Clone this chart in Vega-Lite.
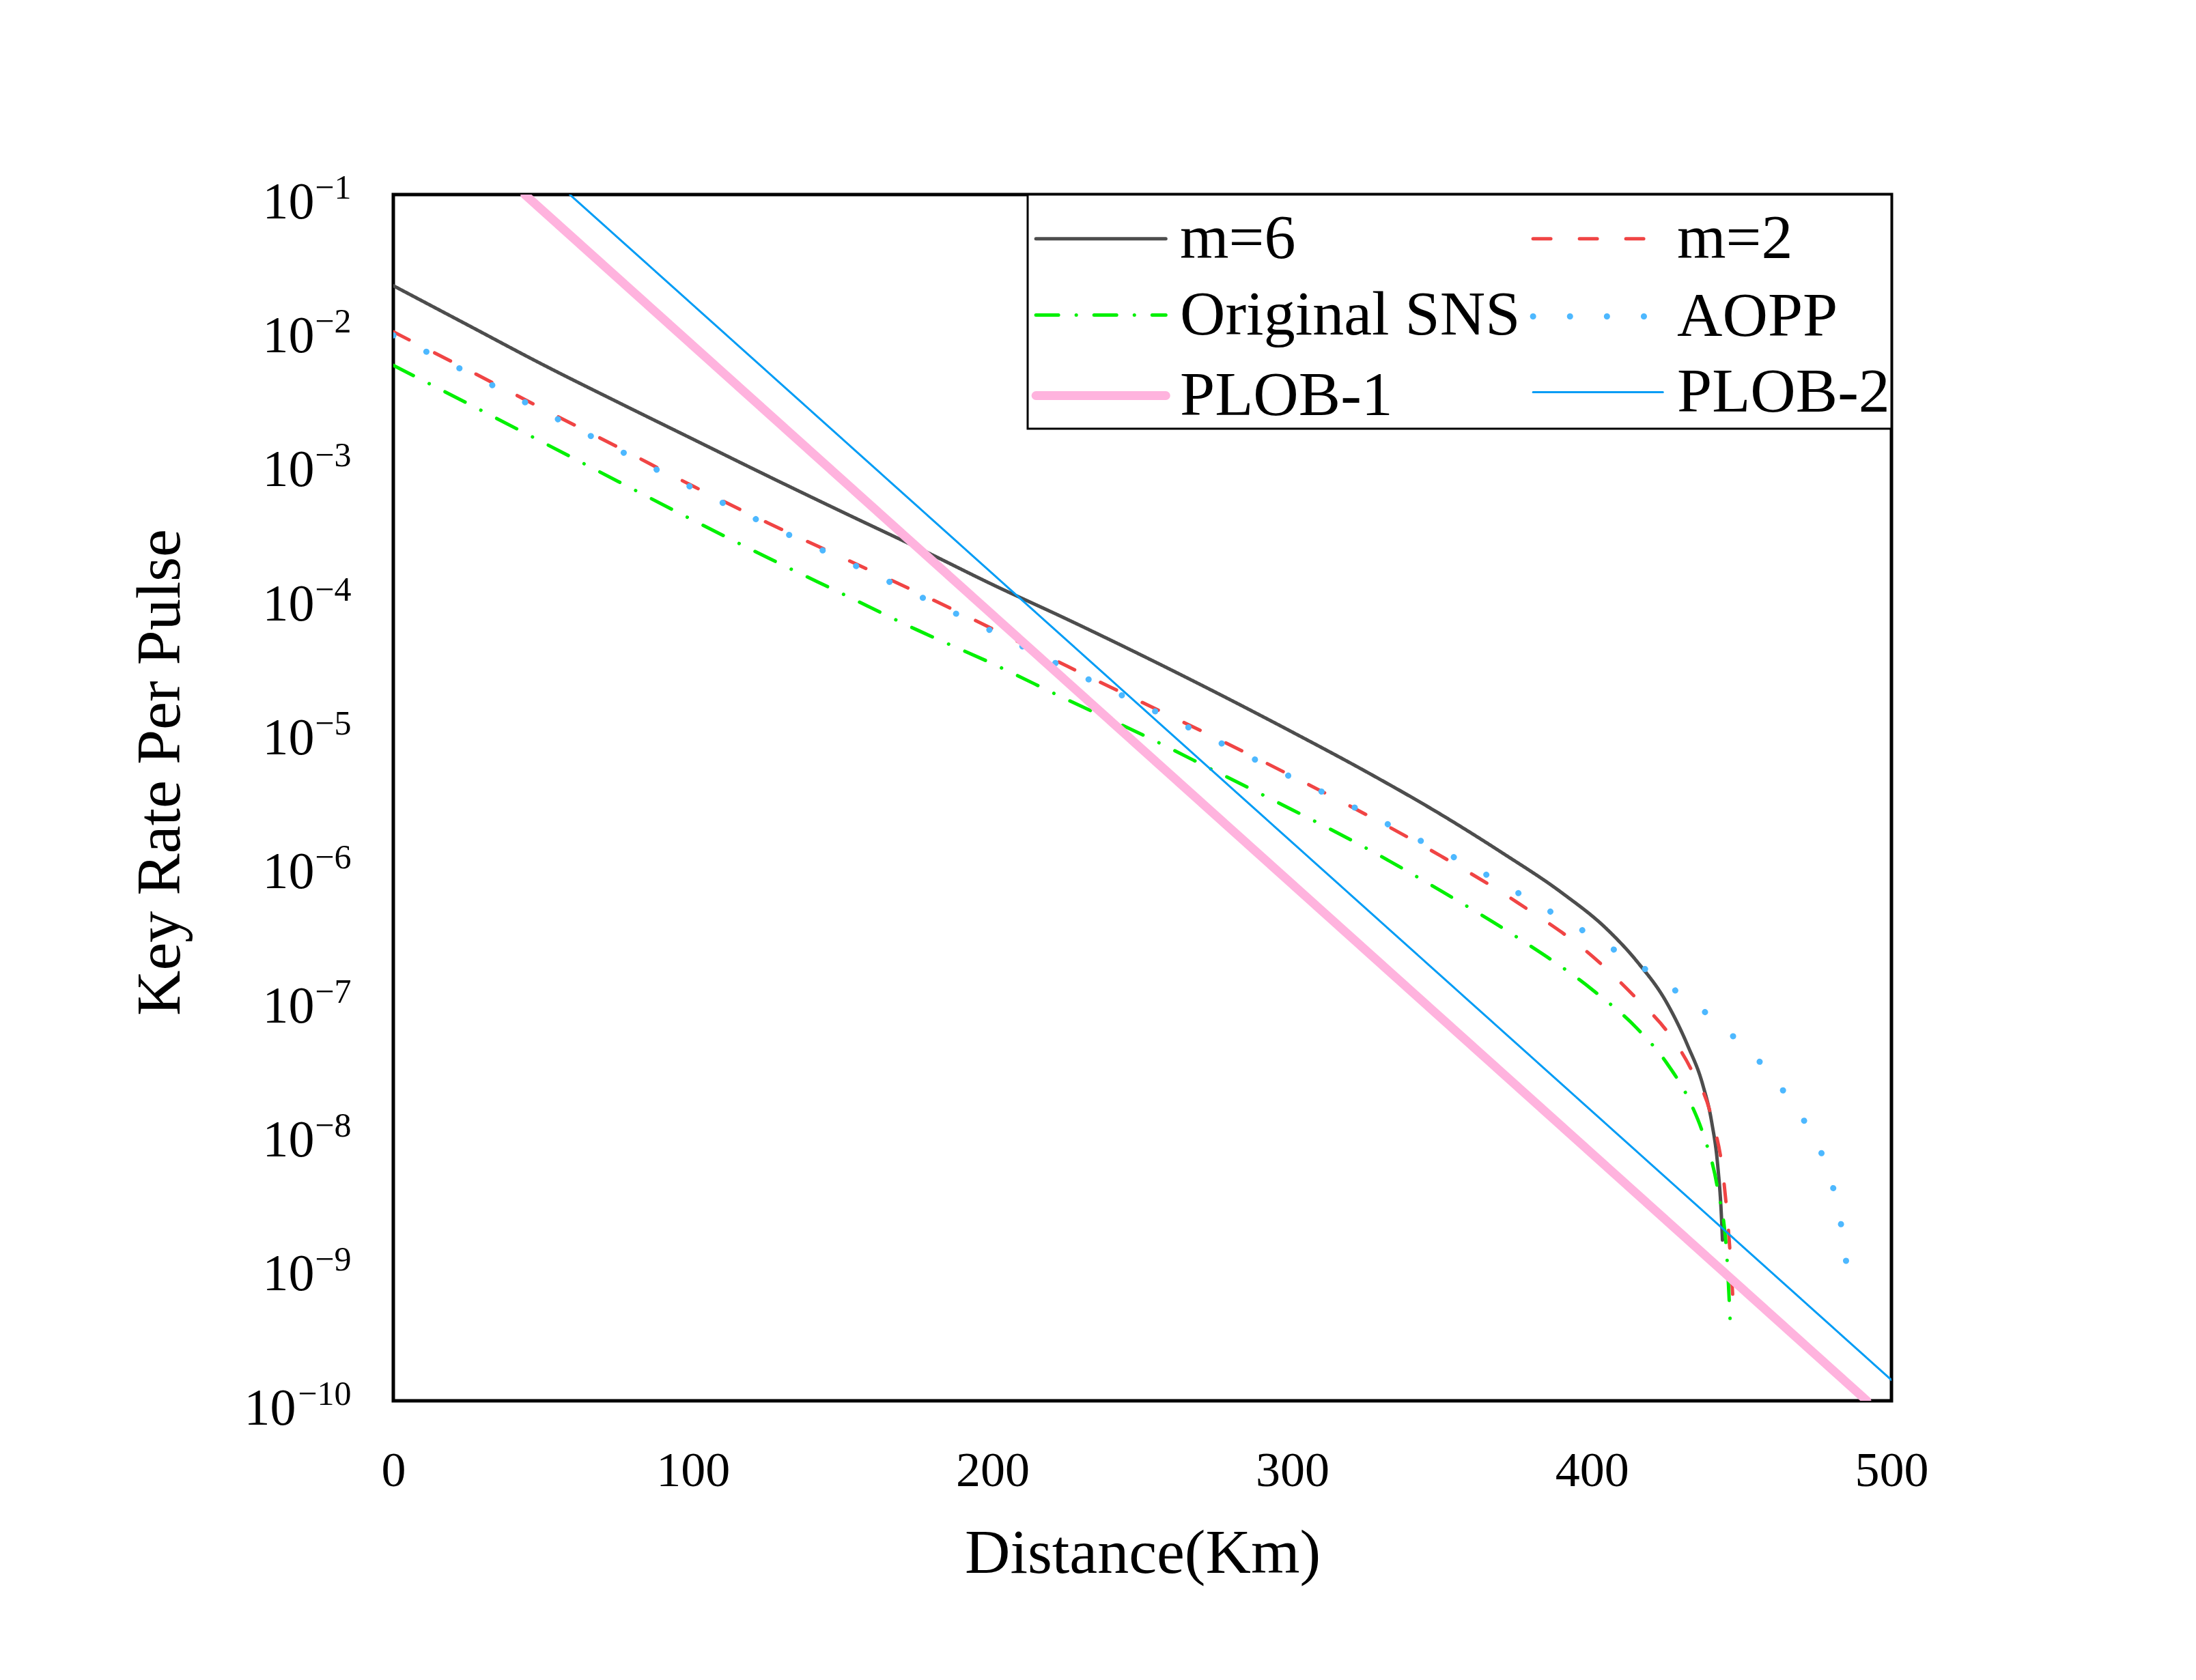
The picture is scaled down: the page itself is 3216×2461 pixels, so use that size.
{
  "$schema": "https://vega.github.io/schema/vega-lite/v6.json",
  "width": 2194,
  "height": 1767,
  "autosize": {"type": "none"},
  "padding": {"left": 576, "top": 285, "right": 446, "bottom": 409},
  "background": "white",
  "config": {
    "font": "Liberation Serif",
    "view": {"stroke": "black", "strokeWidth": 5},
    "axis": {"grid": false, "ticks": false, "tickSize": 0, "domain": false, "labelFont": "Liberation Serif", "titleFont": "Liberation Serif", "labelColor": "black", "titleColor": "black", "titleFontWeight": "normal"},
    "legend": {"orient": "top-right", "offset": 0, "columns": 2, "padding": 2, "fillColor": "white", "strokeColor": "black", "labelFont": "Liberation Serif", "labelFontSize": 92, "labelColor": "black", "labelLimit": 0, "symbolType": "M-0.94,0H2.23", "symbolSize": 14400, "symbolOffset": 0, "labelOffset": 88, "columnPadding": 0, "rowPadding": 3, "gridAlign": "each"}
  },
  "data": {"values": [
    {"series": "m=6", "d": 0, "k": 2.089e-2},
    {"series": "m=6", "d": 25, "k": 1.059e-2},
    {"series": "m=6", "d": 50, "k": 5.37e-3},
    {"series": "m=6", "d": 75, "k": 2.82e-3},
    {"series": "m=6", "d": 100, "k": 1.496e-3},
    {"series": "m=6", "d": 125, "k": 7.94e-4},
    {"series": "m=6", "d": 150, "k": 4.27e-4},
    {"series": "m=6", "d": 175, "k": 2.317e-4},
    {"series": "m=6", "d": 200, "k": 1.23e-4},
    {"series": "m=6", "d": 225, "k": 6.76e-5},
    {"series": "m=6", "d": 250, "k": 3.63e-5},
    {"series": "m=6", "d": 275, "k": 1.905e-5},
    {"series": "m=6", "d": 300, "k": 9.77e-6},
    {"series": "m=6", "d": 325, "k": 4.9e-6},
    {"series": "m=6", "d": 350, "k": 2.344e-6},
    {"series": "m=6", "d": 370, "k": 1.23e-6},
    {"series": "m=6", "d": 390, "k": 6.17e-7},
    {"series": "m=6", "d": 405, "k": 3.31e-7},
    {"series": "m=6", "d": 415, "k": 1.905e-7},
    {"series": "m=6", "d": 425, "k": 9.33e-8},
    {"series": "m=6", "d": 432, "k": 4.47e-8},
    {"series": "m=6", "d": 437, "k": 2.29e-8},
    {"series": "m=6", "d": 440, "k": 1.202e-8},
    {"series": "m=6", "d": 442, "k": 5.75e-9},
    {"series": "m=6", "d": 443.2, "k": 2.512e-9},
    {"series": "m=6", "d": 443.6, "k": 1.585e-9},

    {"series": "m=2", "d": 0, "k": 9.46e-3},
    {"series": "m=2", "d": 25, "k": 4.9e-3},
    {"series": "m=2", "d": 50, "k": 2.51e-3},
    {"series": "m=2", "d": 75, "k": 1.303e-3},
    {"series": "m=2", "d": 100, "k": 6.68e-4},
    {"series": "m=2", "d": 125, "k": 3.55e-4},
    {"series": "m=2", "d": 150, "k": 1.95e-4},
    {"series": "m=2", "d": 175, "k": 1.072e-4},
    {"series": "m=2", "d": 200, "k": 5.75e-5},
    {"series": "m=2", "d": 225, "k": 3.02e-5},
    {"series": "m=2", "d": 250, "k": 1.622e-5},
    {"series": "m=2", "d": 275, "k": 8.71e-6},
    {"series": "m=2", "d": 300, "k": 4.57e-6},
    {"series": "m=2", "d": 325, "k": 2.344e-6},
    {"series": "m=2", "d": 350, "k": 1.148e-6},
    {"series": "m=2", "d": 375, "k": 5.25e-7},
    {"series": "m=2", "d": 400, "k": 2.09e-7},
    {"series": "m=2", "d": 415, "k": 1.0e-7},
    {"series": "m=2", "d": 425, "k": 5.75e-8},
    {"series": "m=2", "d": 433, "k": 3.02e-8},
    {"series": "m=2", "d": 440, "k": 1.288e-8},
    {"series": "m=2", "d": 444, "k": 4.47e-9},
    {"series": "m=2", "d": 446, "k": 1.413e-9},
    {"series": "m=2", "d": 447.3, "k": 4.79e-10},

    {"series": "Original SNS", "d": 0, "k": 5.32e-3},
    {"series": "Original SNS", "d": 25, "k": 2.75e-3},
    {"series": "Original SNS", "d": 50, "k": 1.413e-3},
    {"series": "Original SNS", "d": 75, "k": 7.24e-4},
    {"series": "Original SNS", "d": 100, "k": 3.72e-4},
    {"series": "Original SNS", "d": 125, "k": 1.95e-4},
    {"series": "Original SNS", "d": 150, "k": 1.047e-4},
    {"series": "Original SNS", "d": 175, "k": 5.62e-5},
    {"series": "Original SNS", "d": 200, "k": 3.16e-5},
    {"series": "Original SNS", "d": 225, "k": 1.698e-5},
    {"series": "Original SNS", "d": 250, "k": 9.33e-6},
    {"series": "Original SNS", "d": 275, "k": 4.9e-6},
    {"series": "Original SNS", "d": 300, "k": 2.57e-6},
    {"series": "Original SNS", "d": 325, "k": 1.318e-6},
    {"series": "Original SNS", "d": 350, "k": 6.31e-7},
    {"series": "Original SNS", "d": 375, "k": 2.88e-7},
    {"series": "Original SNS", "d": 400, "k": 1.175e-7},
    {"series": "Original SNS", "d": 415, "k": 6.03e-8},
    {"series": "Original SNS", "d": 425, "k": 3.31e-8},
    {"series": "Original SNS", "d": 433, "k": 1.66e-8},
    {"series": "Original SNS", "d": 437, "k": 1.0e-8},
    {"series": "Original SNS", "d": 442, "k": 3.8e-9},
    {"series": "Original SNS", "d": 445, "k": 1.259e-9},
    {"series": "Original SNS", "d": 446.3, "k": 3.39e-10},

    {"series": "AOPP", "d": 0, "k": 8.91e-3},
    {"series": "AOPP", "d": 25, "k": 4.68e-3},
    {"series": "AOPP", "d": 50, "k": 2.4e-3},
    {"series": "AOPP", "d": 75, "k": 1.245e-3},
    {"series": "AOPP", "d": 100, "k": 6.46e-4},
    {"series": "AOPP", "d": 125, "k": 3.43e-4},
    {"series": "AOPP", "d": 150, "k": 1.884e-4},
    {"series": "AOPP", "d": 175, "k": 1.023e-4},
    {"series": "AOPP", "d": 200, "k": 5.5e-5},
    {"series": "AOPP", "d": 225, "k": 2.88e-5},
    {"series": "AOPP", "d": 250, "k": 1.549e-5},
    {"series": "AOPP", "d": 275, "k": 8.32e-6},
    {"series": "AOPP", "d": 300, "k": 4.47e-6},
    {"series": "AOPP", "d": 325, "k": 2.4e-6},
    {"series": "AOPP", "d": 340, "k": 1.622e-6},
    {"series": "AOPP", "d": 351, "k": 1.23e-6},
    {"series": "AOPP", "d": 362, "k": 9.12e-7},
    {"series": "AOPP", "d": 373, "k": 6.61e-7},
    {"series": "AOPP", "d": 383, "k": 4.9e-7},
    {"series": "AOPP", "d": 394, "k": 3.55e-7},
    {"series": "AOPP", "d": 404, "k": 2.57e-7},
    {"series": "AOPP", "d": 414, "k": 1.905e-7},
    {"series": "AOPP", "d": 424, "k": 1.318e-7},
    {"series": "AOPP", "d": 435, "k": 8.91e-8},
    {"series": "AOPP", "d": 444, "k": 6.03e-8},
    {"series": "AOPP", "d": 453, "k": 3.98e-8},
    {"series": "AOPP", "d": 461, "k": 2.51e-8},
    {"series": "AOPP", "d": 468, "k": 1.514e-8},
    {"series": "AOPP", "d": 475, "k": 8.51e-9},
    {"series": "AOPP", "d": 479.5, "k": 4.68e-9},
    {"series": "AOPP", "d": 482.4, "k": 2.57e-9},
    {"series": "AOPP", "d": 484.4, "k": 1.349e-9},
    {"series": "AOPP", "d": 485.7, "k": 7.24e-10},

    {"series": "PLOB-1", "d": 43.9, "k": 1.0e-1},
    {"series": "PLOB-1", "d": 100, "k": 7.46e-3},
    {"series": "PLOB-1", "d": 200, "k": 7.31e-5},
    {"series": "PLOB-1", "d": 300, "k": 7.16e-7},
    {"series": "PLOB-1", "d": 400, "k": 7.01e-9},
    {"series": "PLOB-1", "d": 491.8, "k": 1.0e-10},

    {"series": "PLOB-2", "d": 58.9, "k": 1.0e-1},
    {"series": "PLOB-2", "d": 100, "k": 1.5e-2},
    {"series": "PLOB-2", "d": 200, "k": 1.483e-4},
    {"series": "PLOB-2", "d": 300, "k": 1.466e-6},
    {"series": "PLOB-2", "d": 400, "k": 1.449e-8},
    {"series": "PLOB-2", "d": 500, "k": 1.429e-10}
  ]},
  "encoding": {
    "x": {
      "field": "d", "type": "quantitative",
      "scale": {"domain": [0, 500], "nice": false, "zero": false},
      "axis": {"values": [0, 100, 200, 300, 400, 500], "title": "Distance(Km)", "labelFontSize": 72, "labelPadding": 67, "labelFlush": false, "titleFontSize": 92, "titleY": 251, "titleBaseline": "alphabetic"}
    },
    "color": {
      "field": "series", "type": "nominal",
      "scale": {"domain": ["m=6", "Original SNS", "PLOB-1", "m=2", "AOPP", "PLOB-2"], "range": ["#4d4d4d", "#00f000", "#ffb3de", "#f04444", "#4db8ff", "#009cf5"]},
      "legend": {"title": null, "encode": {"legend": {"update": {"strokeWidth": {"value": 3}}}, "symbols": {"update": {"strokeCap": {"value": "round"}, "fillOpacity": {"value": 0}}}}}
    },
    "strokeDash": {
      "field": "series", "type": "nominal",
      "scale": {"domain": ["m=6", "Original SNS", "PLOB-1", "m=2", "AOPP", "PLOB-2"], "range": [[1, 0], [33, 26, 0.1, 26], [1, 0], [26, 42], [0.1, 54], [1, 0]]},
      "legend": {"title": null}
    },
    "strokeWidth": {
      "field": "series", "type": "nominal",
      "scale": {"type": "ordinal", "domain": ["m=6", "Original SNS", "PLOB-1", "m=2", "AOPP", "PLOB-2"], "range": [5, 5, 13, 5, 9, 3]},
      "legend": {"title": null}
    }
  },
  "layer": [
    {
      "transform": [{"filter": "datum.series != 'PLOB-1' && datum.series != 'PLOB-2'"}],
      "mark": {"type": "line", "clip": true, "strokeCap": "round", "strokeJoin": "round", "interpolate": "monotone"},
      "encoding": {
        "y": {
          "field": "k", "type": "quantitative",
          "scale": {"type": "log", "domain": [1e-10, 0.1], "nice": false},
          "axis": {
            "orient": "left",
            "values": [1e-10, 1e-9, 1e-8, 1e-7, 1e-6, 1e-5, 1e-4, 1e-3, 1e-2, 1e-1],
            "labelExpr": "'−' + round(-log(datum.value)/LN10)",
            "title": null, "labelFontSize": 50, "labelAlign": "right", "labelBaseline": "alphabetic", "labelOffset": 5, "labelPadding": 62
          }
        }
      }
    },
    {
      "transform": [{"filter": "datum.series == 'PLOB-1'"}],
      "mark": {"type": "line", "clip": true, "strokeCap": "round", "strokeJoin": "round"},
      "encoding": {
        "y": {
          "field": "k", "type": "quantitative",
          "scale": {"type": "log", "domain": [1e-10, 0.1], "nice": false},
          "axis": {
            "orient": "left",
            "values": [1e-9, 1e-8, 1e-7, 1e-6, 1e-5, 1e-4, 1e-3, 1e-2, 1e-1],
            "labelExpr": "'10'",
            "labelFontSize": 76, "labelAlign": "right", "labelBaseline": "alphabetic", "labelOffset": 34, "labelPadding": 116,
            "title": "Key Rate Per Pulse", "titleFontSize": 92, "titleX": -314, "titleY": 846, "titleAngle": -90, "titleAlign": "center", "titleBaseline": "alphabetic"
          }
        }
      }
    },
    {
      "transform": [{"filter": "datum.series == 'PLOB-2'"}],
      "mark": {"type": "line", "clip": true, "strokeCap": "round", "strokeJoin": "round"},
      "encoding": {
        "y": {
          "field": "k", "type": "quantitative",
          "scale": {"type": "log", "domain": [1e-10, 0.1], "nice": false},
          "axis": {
            "orient": "left",
            "values": [1e-10],
            "labelExpr": "'10'",
            "labelFontSize": 76, "labelAlign": "right", "labelBaseline": "alphabetic", "labelOffset": 34, "labelPadding": 143,
            "title": null
          }
        }
      }
    }
  ],
  "resolve": {"axis": {"y": "independent"}}
}
